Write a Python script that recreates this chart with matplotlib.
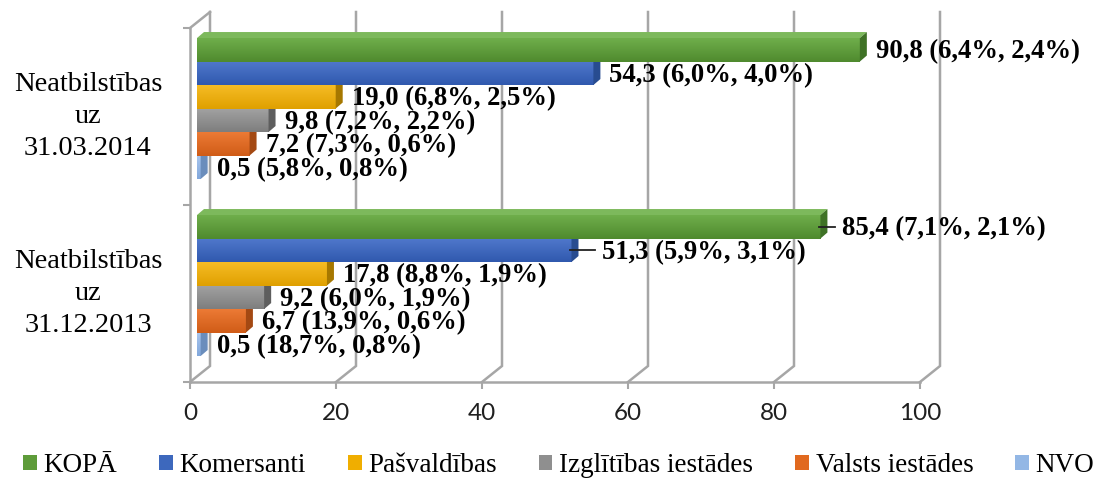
import matplotlib
matplotlib.use('Agg')
import matplotlib.pyplot as plt
from matplotlib.patches import Polygon, Patch
from matplotlib.colors import LinearSegmentedColormap
import numpy as np

# data
categories = ['Neatbilstības\nuz\n31.12.2013', 'Neatbilstības\nuz\n31.03.2014']
series = ['KOPĀ', 'Komersanti', 'Pašvaldības', 'Izglītības iestādes',
          'Valsts iestādes', 'NVO']
values_2013 = [85.4, 51.3, 17.8, 9.2, 6.7, 0.5]
values_2014 = [90.8, 54.3, 19.0, 9.8, 7.2, 0.5]
change_2013 = [7.1, 5.9, 8.8, 6.0, 13.9, 18.7]
share_2013 = [2.1, 3.1, 1.9, 1.9, 0.6, 0.8]
change_2014 = [6.4, 6.0, 6.8, 7.2, 7.3, 5.8]
share_2014 = [2.4, 4.0, 2.5, 2.2, 0.6, 0.8]
x_ticks = [0, 20, 40, 60, 80, 100]

# colours: front (light top -> dark bottom), top face, side face
front_hi = ['#6FAE4B', '#5078CC', '#F6BC25', '#A2A2A2', '#EC7A35', '#A9C6EE']
front_lo = ['#4F8A2E', '#3059AE', '#DFA000', '#7E7E7E', '#D05C17', '#82A8DC']
top = ['#7DB95C', '#6A8ED6', '#F7C540', '#B0B0B0', '#EE8A50', '#BBD2F2']
side = ['#3F7226', '#284C90', '#A67800', '#5E5E5E', '#A44913', '#6A8DBC']
legend_c = ['#5E9C3A', '#3D68BD', '#F0AE00', '#8F8F8F', '#E1691F', '#93B7E5']
grid_c = '#A6A6A6'

fig = plt.figure(figsize=(11, 4.8), dpi=100)
W, H = 1100, 480
ax = fig.add_axes([190 / W, (480 - 382) / H, 730 / W, (382 - 28) / H])

# pixel -> data conversion
PX = 100 / 730
PY = 2 / 354

# 3d walls / gridlines
wdx, wdy = 20 * PX, 16 * PY
for v in x_ticks:
    ax.plot([v, v + wdx, v + wdx], [0, wdy, 2 + wdy], color=grid_c, lw=1.8,
            clip_on=False, zorder=1, solid_joinstyle='miter')
ax.plot([0, wdx], [2, 2 + wdy], color=grid_c, lw=1.8, clip_on=False, zorder=1)

# bars
bdx, bdy = 7 * PX, 6 * PY
bh = 23.5 * PY
ox = 7 * PX
all_vals = [values_2013, values_2014]
all_chg = [change_2013, change_2014]
all_shr = [share_2013, share_2014]
leader = {(0, 0): 22, (0, 1): 31}
grad = np.linspace(0, 1, 64).reshape(-1, 1)

def fmt(x):
    return f'{x:.1f}'.replace('.', ',')

for gi, vals in enumerate(all_vals):
    centre = gi + 0.5 + 0.045
    top_edge = centre + 3 * bh
    # draw from bottom bar up so upper bars hide lower ones' depth faces
    for si in reversed(range(len(series))):
        v = vals[si]
        y1 = top_edge - si * bh
        y0 = y1 - bh
        cmap = LinearSegmentedColormap.from_list(
            's%d' % si, [front_hi[si], front_lo[si]])
        ax.imshow(grad, extent=[ox, ox + v, y0, y1], cmap=cmap, aspect='auto',
                  origin='upper', interpolation='bicubic', zorder=3)
        ax.add_patch(Polygon([(ox, y1), (ox + v, y1), (ox + v + bdx, y1 + bdy),
                              (ox + bdx, y1 + bdy)], closed=True,
                             facecolor=top[si], edgecolor='none', zorder=3,
                             clip_on=False))
        ax.add_patch(Polygon([(ox + v, y0), (ox + v, y1),
                              (ox + v + bdx, y1 + bdy), (ox + v + bdx, y0 + bdy)],
                             closed=True, facecolor=side[si], edgecolor='none',
                             zorder=3, clip_on=False))
        gap = leader.get((gi, si), 16)
        xe = ox + v + gap * PX
        yc = (y0 + y1) / 2
        if (gi, si) in leader:
            ax.plot([ox + v - 1 * PX, xe - 7 * PX], [yc, yc], color='#222222',
                    lw=1.3, zorder=5, clip_on=False)
        txt = f'{fmt(v)} ({fmt(all_chg[gi][si])}%, {fmt(all_shr[gi][si])}%)'
        ax.text(xe, yc - 2 * PY, txt, ha='left', va='center', fontsize=19.2,
                fontweight='bold', family='Liberation Serif', zorder=6,
                clip_on=False)

ax.set_xlim(0, 100)
ax.set_ylim(0, 2)

# category labels
for ci, cat in enumerate(categories):
    ax.text((88 - 190) * PX, ci + 0.5, cat, ha='center',
            va='center', fontsize=20.5, family='Liberation Serif',
            linespacing=1.38, clip_on=False)

# axes styling
for s in ['top', 'right']:
    ax.spines[s].set_visible(False)
for s in ['left', 'bottom']:
    ax.spines[s].set_color(grid_c)
    ax.spines[s].set_linewidth(1.8)
    ax.spines[s].set_zorder(1)
ax.set_xticks(x_ticks)
ax.set_xticklabels([str(t) for t in x_ticks], family='Lato', fontsize=17.5,
                   color='#202020')
ax.set_yticks([0, 1, 2])
ax.set_yticklabels([])
ax.tick_params(axis='both', direction='out', length=5, width=1.5,
               color=grid_c)
ax.tick_params(axis='x', pad=10)

# legend
handles = [Patch(facecolor=legend_c[i], edgecolor='none') for i in range(len(series))]
fig.legend(handles, series, loc='center', bbox_to_anchor=(0.508, 0.03), ncol=6,
           frameon=False, prop={'family': 'Liberation Serif', 'size': 19.5},
           handlelength=0.5, handleheight=0.5, handletextpad=0.25,
           columnspacing=1.55, borderaxespad=0)

fig.savefig('out.png', dpi=100)
